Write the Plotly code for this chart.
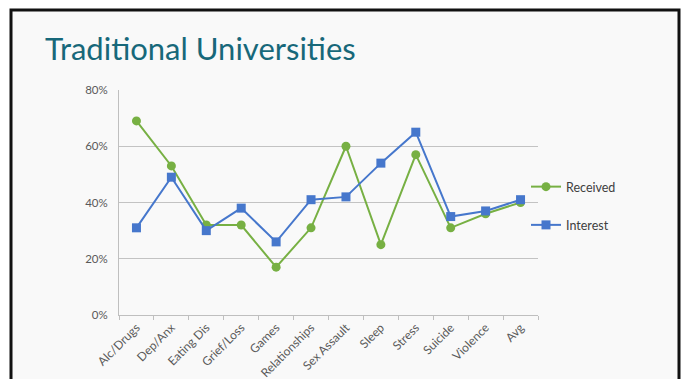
import plotly.graph_objects as go

# Survey topics and the share of respondents for each series
categories = ["Alc/Drugs", "Dep/Anx", "Eating Dis", "Grief/Loss", "Games",
              "Relationships", "Sex Assault", "Sleep", "Stress", "Suicide",
              "Violence", "Avg"]
received = [69, 53, 32, 32, 17, 31, 60, 25, 57, 31, 36, 40]
interest = [31, 49, 30, 38, 26, 41, 42, 54, 65, 35, 37, 41]
y_ticks = [0, 20, 40, 60, 80]
y_tick_text = [f"{v}%" for v in y_ticks]

W, H = 685, 379
L, R, T, B = 119, 147, 90, 64
plot_w = W - L - R
plot_h = H - T - B


def px_x(p):
    return (p - L) / plot_w


def px_y(p):
    return 1 - (p - T) / plot_h


fig = go.Figure()
fig.add_trace(go.Scatter(
    x=categories, y=received, name="Received", mode="lines+markers",
    line=dict(color="#77B043", width=2),
    marker=dict(symbol="circle", size=9, color="#77B043"),
    legendgroup="a",
))
fig.add_trace(go.Scatter(
    x=categories, y=interest, name="Interest", mode="lines+markers",
    line=dict(color="#4677CC", width=2),
    marker=dict(symbol="square", size=9, color="#4677CC"),
    legendgroup="b",
))

# Slide frame
fig.add_shape(type="rect", xref="paper", yref="paper",
              x0=px_x(11), x1=px_x(679), y0=px_y(10), y1=px_y(390),
              line=dict(color="#111111", width=3), fillcolor="#F9F9F9",
              layer="below")

fig.add_annotation(text="Traditional Universities", xref="paper", yref="paper",
                   x=px_x(43), y=px_y(27), xanchor="left", yanchor="top",
                   showarrow=False,
                   font=dict(family="Lato, sans-serif", size=31, color="#17687A"))

fig.update_layout(
    width=W, height=H,
    margin=dict(l=L, r=R, t=T, b=B, autoexpand=False),
    paper_bgcolor="white",
    plot_bgcolor="rgba(0,0,0,0)",
    font=dict(family="Lato, sans-serif", size=11, color="#595959"),
    showlegend=True,
    legend=dict(x=px_x(526), y=px_y(172), xanchor="left", yanchor="top",
                bgcolor="rgba(0,0,0,0)", font=dict(size=12.5, color="#404040"),
                traceorder="grouped", tracegroupgap=19, itemwidth=30),
    xaxis=dict(type="category", showgrid=False, showline=True,
               linecolor="#BFBFBF", linewidth=1, ticks="outside",
               tickson="boundaries", ticklen=4, tickcolor="#BFBFBF",
               tickangle=-45, tickfont=dict(size=12, color="#595959"),
               range=[-0.5, len(categories) - 0.5], automargin=False),
    yaxis=dict(range=[0, 80], tickvals=y_ticks, ticktext=y_tick_text,
               showgrid=True, gridcolor="#C3C3C3", gridwidth=1,
               showline=True, linecolor="#BFBFBF", zeroline=False,
               ticks="", ticklabelstandoff=8, automargin=False,
               tickfont=dict(size=11.5, color="#595959")),
)

fig.write_html("out.html")
